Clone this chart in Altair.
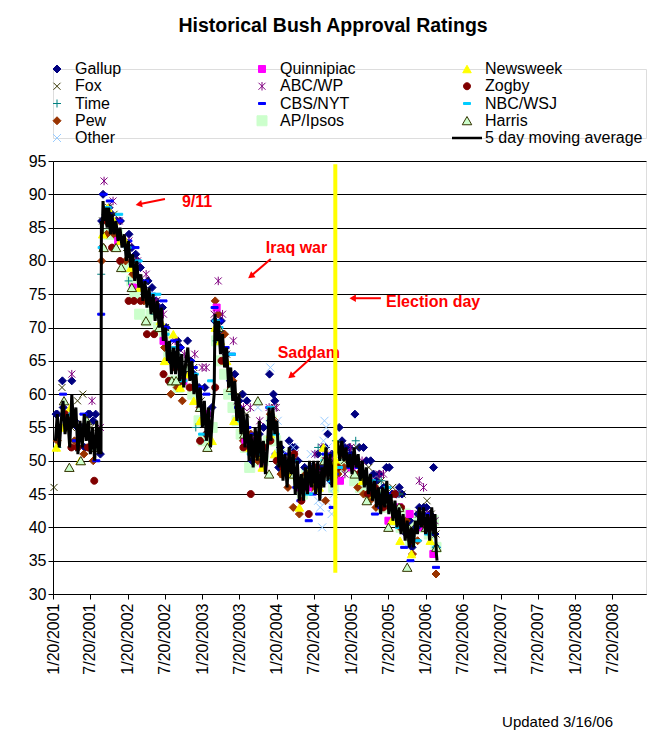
import altair as alt
import pandas as pd

TITLE = "Historical Bush Approval Ratings"
UPDATED = "Updated 3/16/06"
MA_LABEL = "5 day moving average"

pollsters = ["Gallup", "Fox", "Time", "Pew", "Other", "Quinnipiac", "ABC/WP",
             "CBS/NYT", "AP/Ipsos", "Newsweek", "Zogby", "NBC/WSJ", "Harris"]

tick_labels = ["1/20/2001", "7/20/2001", "1/20/2002", "7/20/2002", "1/20/2003",
               "7/20/2003", "1/20/2004", "7/20/2004", "1/20/2005", "7/20/2005",
               "1/20/2006", "7/20/2006", "1/20/2007", "7/20/2007", "1/20/2008",
               "7/20/2008"]
y_ticks = [30, 35, 40, 45, 50, 55, 60, 65, 70, 75, 80, 85, 90, 95]

gallup = [("2001-02-04", 57), ("2001-02-11", 57), ("2001-03-07", 62), ("2001-03-11", 58),
          ("2001-04-22", 62), ("2001-05-06", 56), ("2001-05-20", 55), ("2001-06-10", 55),
          ("2001-06-24", 52), ("2001-07-11", 57), ("2001-07-20", 57), ("2001-08-05", 56),
          ("2001-08-17", 57), ("2001-09-09", 51), ("2001-09-15", 86), ("2001-09-22", 90),
          ("2001-10-07", 87), ("2001-10-21", 88), ("2001-11-04", 87), ("2001-11-28", 86),
          ("2001-12-16", 86), ("2002-01-06", 83), ("2002-01-27", 84), ("2002-02-10", 82),
          ("2002-03-01", 81), ("2002-03-10", 80), ("2002-03-24", 79), ("2002-04-07", 76),
          ("2002-04-30", 77), ("2002-05-20", 76), ("2002-06-09", 74), ("2002-06-23", 73),
          ("2002-07-10", 73), ("2002-07-28", 70), ("2002-08-20", 65), ("2002-09-05", 66),
          ("2002-09-22", 68), ("2002-10-06", 67), ("2002-10-23", 63), ("2002-11-10", 68),
          ("2002-11-25", 65), ("2002-12-10", 63), ("2003-01-05", 61), ("2003-01-16", 58),
          ("2003-02-02", 61), ("2003-02-22", 57), ("2003-03-09", 58), ("2003-03-23", 71),
          ("2003-04-07", 70), ("2003-04-24", 71), ("2003-05-05", 69), ("2003-05-20", 66),
          ("2003-06-08", 62), ("2003-06-29", 63), ("2003-07-20", 59), ("2003-08-06", 60),
          ("2003-08-27", 59), ("2003-09-10", 52), ("2003-09-21", 50), ("2003-10-08", 53),
          ("2003-10-27", 54), ("2003-11-12", 51), ("2003-11-17", 55), ("2003-12-16", 63),
          ("2003-12-21", 56), ("2004-01-04", 60), ("2004-01-11", 59), ("2004-01-30", 49),
          ("2004-02-08", 52), ("2004-02-18", 51), ("2004-03-07", 49), ("2004-03-21", 53),
          ("2004-04-06", 52), ("2004-04-18", 52), ("2004-05-03", 50), ("2004-05-08", 46),
          ("2004-05-23", 47), ("2004-06-05", 49), ("2004-06-22", 48), ("2004-07-08", 49),
          ("2004-07-21", 48), ("2004-08-08", 51), ("2004-08-25", 49), ("2004-09-05", 52),
          ("2004-09-15", 52), ("2004-09-26", 54), ("2004-10-10", 47), ("2004-10-16", 51),
          ("2004-10-24", 49), ("2004-10-31", 48), ("2004-11-21", 55), ("2004-12-05", 53),
          ("2004-12-19", 52), ("2005-01-09", 52), ("2005-01-16", 51), ("2005-02-06", 57),
          ("2005-02-27", 52), ("2005-03-20", 52), ("2005-04-03", 50), ("2005-04-24", 50),
          ("2005-05-08", 48), ("2005-05-22", 47), ("2005-06-06", 48), ("2005-06-26", 46),
          ("2005-07-10", 49), ("2005-07-24", 49), ("2005-08-07", 45), ("2005-08-28", 45),
          ("2005-09-11", 46), ("2005-09-25", 45), ("2005-10-16", 39), ("2005-11-01", 41),
          ("2005-11-13", 37), ("2005-12-11", 42), ("2005-12-18", 43), ("2006-01-08", 43),
          ("2006-01-22", 43), ("2006-02-08", 42), ("2006-02-26", 49), ("2006-03-05", 39),
          ("2006-03-12", 37)]

fox = [("2001-01-25", 46), ("2001-03-05", 61), ("2001-04-20", 55), ("2001-05-20", 59),
       ("2001-06-15", 60), ("2001-07-25", 55), ("2001-09-20", 86), ("2001-10-20", 88),
       ("2001-11-15", 87), ("2002-01-15", 82), ("2002-02-15", 80), ("2002-04-15", 77),
       ("2002-06-10", 74), ("2002-07-25", 70), ("2002-09-10", 66), ("2002-10-25", 64),
       ("2002-12-10", 64), ("2003-01-15", 59), ("2003-02-25", 57), ("2003-04-10", 68),
       ("2003-05-20", 66), ("2003-07-15", 60), ("2003-08-25", 57), ("2003-10-15", 53),
       ("2003-11-20", 52), ("2004-01-10", 58), ("2004-02-20", 48), ("2004-04-10", 50),
       ("2004-05-25", 46), ("2004-06-25", 48), ("2004-08-05", 47), ("2004-09-15", 50),
       ("2004-10-20", 48), ("2004-12-15", 50), ("2005-02-15", 52), ("2005-04-15", 49),
       ("2005-06-15", 47), ("2005-08-10", 46), ("2005-09-25", 45), ("2005-11-10", 40),
       ("2005-12-15", 42), ("2006-01-25", 44), ("2006-02-15", 42), ("2006-03-10", 39)]

time_ = [("2001-02-10", 52), ("2001-05-10", 52), ("2001-09-13", 78), ("2002-01-25", 77),
         ("2002-06-01", 72), ("2002-09-20", 66), ("2002-12-20", 55), ("2003-01-15", 53),
         ("2003-04-01", 68), ("2003-06-15", 60), ("2003-09-15", 52), ("2003-12-25", 54),
         ("2004-02-15", 51), ("2004-04-15", 50), ("2004-06-25", 47), ("2004-08-10", 52),
         ("2004-09-10", 51), ("2004-11-05", 53), ("2005-02-10", 53), ("2005-05-10", 46),
         ("2005-06-15", 47), ("2005-09-10", 45), ("2005-11-01", 39), ("2006-01-30", 40)]

pew = [("2001-02-10", 53), ("2001-04-10", 56), ("2001-05-05", 53), ("2001-06-20", 51),
       ("2001-07-15", 52), ("2001-08-05", 50), ("2001-09-15", 80), ("2001-10-10", 84),
       ("2001-11-15", 84), ("2002-01-10", 80), ("2002-02-15", 78), ("2002-04-10", 74),
       ("2002-05-20", 74), ("2002-07-20", 67), ("2002-08-20", 60), ("2002-09-20", 61),
       ("2002-10-15", 59), ("2002-12-10", 61), ("2003-01-10", 58), ("2003-02-10", 54),
       ("2003-03-25", 74), ("2003-04-10", 72), ("2003-05-10", 69), ("2003-06-20", 62),
       ("2003-07-20", 58), ("2003-08-10", 53), ("2003-09-15", 54), ("2003-10-20", 50),
       ("2003-12-20", 57), ("2004-01-10", 56), ("2004-02-10", 48), ("2004-03-15", 46),
       ("2004-04-10", 43), ("2004-05-10", 42), ("2004-06-10", 48), ("2004-07-10", 46),
       ("2004-08-10", 46), ("2004-09-15", 44), ("2004-10-20", 48), ("2004-11-15", 48),
       ("2004-12-15", 49), ("2005-01-10", 50), ("2005-02-20", 46), ("2005-03-20", 45),
       ("2005-04-20", 44), ("2005-05-20", 43), ("2005-06-20", 44), ("2005-07-20", 44),
       ("2005-09-15", 40), ("2005-10-15", 41), ("2005-11-15", 36), ("2005-12-10", 38),
       ("2006-01-10", 40), ("2006-02-10", 40), ("2006-03-10", 33)]

other = [("2003-10-20", 58), ("2003-12-20", 64), ("2004-01-03", 58), ("2004-01-25", 56),
         ("2004-02-20", 51), ("2004-03-15", 50), ("2004-04-10", 52), ("2004-05-20", 47),
         ("2004-06-15", 48), ("2004-07-05", 51), ("2004-07-25", 49), ("2004-08-10", 44),
         ("2004-08-20", 43), ("2004-08-30", 40), ("2004-09-05", 53), ("2004-09-10", 56),
         ("2004-09-18", 55), ("2004-09-25", 52), ("2004-10-05", 47), ("2004-10-15", 42),
         ("2004-10-20", 43), ("2004-10-25", 45), ("2004-10-28", 50), ("2004-10-30", 46)]

quinnipiac = [("2001-12-05", 83), ("2002-02-15", 76), ("2002-07-15", 68), ("2002-10-20", 62),
              ("2003-02-10", 57), ("2003-04-01", 73), ("2003-07-20", 57), ("2003-08-20", 53),
              ("2003-10-10", 53), ("2003-11-15", 49), ("2004-02-15", 50), ("2004-03-20", 48),
              ("2004-05-15", 46), ("2004-06-20", 46), ("2004-08-15", 48), ("2004-09-20", 50),
              ("2004-10-20", 48), ("2004-11-25", 47), ("2005-01-20", 49), ("2005-03-20", 48),
              ("2005-05-10", 45), ("2005-07-20", 41), ("2005-09-10", 43), ("2005-11-01", 42),
              ("2005-12-15", 40), ("2006-02-25", 36)]

abc_wp = [("2001-04-22", 63), ("2001-06-03", 55), ("2001-07-30", 59), ("2001-09-09", 55),
          ("2001-09-27", 92), ("2001-11-10", 89), ("2001-12-10", 86), ("2002-01-27", 83),
          ("2002-03-10", 80), ("2002-04-21", 78), ("2002-06-10", 74), ("2002-07-15", 72),
          ("2002-09-10", 68), ("2002-10-25", 66), ("2002-12-15", 66), ("2003-01-20", 64),
          ("2003-02-09", 64), ("2003-03-20", 72), ("2003-04-09", 77), ("2003-04-30", 72),
          ("2003-06-22", 68), ("2003-07-10", 59), ("2003-08-11", 58), ("2003-09-13", 58),
          ("2003-10-29", 56), ("2003-12-14", 58), ("2004-01-18", 58), ("2004-02-11", 50),
          ("2004-03-07", 50), ("2004-04-18", 51), ("2004-05-23", 47), ("2004-06-20", 47),
          ("2004-07-25", 51), ("2004-08-29", 52), ("2004-09-26", 51), ("2004-10-20", 50),
          ("2004-12-19", 48), ("2005-01-16", 52), ("2005-03-13", 50), ("2005-04-24", 47),
          ("2005-06-05", 48), ("2005-06-26", 48), ("2005-08-28", 45), ("2005-09-11", 42),
          ("2005-10-30", 39), ("2005-12-18", 47), ("2006-01-08", 46), ("2006-01-26", 42),
          ("2006-03-05", 41)]

cbs_nyt = [("2001-03-10", 60), ("2001-05-12", 53), ("2001-06-18", 57), ("2001-08-20", 50),
           ("2001-09-13", 72), ("2001-09-25", 90), ("2001-10-25", 89), ("2001-12-10", 86),
           ("2002-01-24", 83), ("2002-02-28", 82), ("2002-04-15", 77), ("2002-05-20", 75),
           ("2002-07-15", 74), ("2002-07-25", 70), ("2002-09-05", 68), ("2002-10-05", 67),
           ("2002-11-25", 65), ("2002-12-10", 64), ("2003-01-10", 61), ("2003-02-10", 60),
           ("2003-03-22", 73), ("2003-04-15", 71), ("2003-05-15", 67), ("2003-06-15", 66),
           ("2003-07-15", 58), ("2003-08-30", 55), ("2003-09-30", 54), ("2003-11-15", 51),
           ("2003-12-15", 58), ("2004-01-15", 51), ("2004-02-12", 50), ("2004-03-15", 51),
           ("2004-04-25", 46), ("2004-05-15", 44), ("2004-06-25", 41), ("2004-07-15", 45),
           ("2004-08-15", 42), ("2004-09-15", 51), ("2004-10-20", 43), ("2004-10-30", 48),
           ("2005-01-15", 49), ("2005-02-25", 49), ("2005-04-15", 47), ("2005-05-15", 42),
           ("2005-06-15", 43), ("2005-07-15", 45), ("2005-09-10", 41), ("2005-10-05", 37),
           ("2005-11-05", 35), ("2005-12-05", 40), ("2006-01-25", 42), ("2006-03-10", 34)]

ap_ipsos = [("2001-10-20", 84), ("2001-12-01", 84), ("2002-01-15", 79), ("2002-02-10", 77),
            ("2002-02-25", 75), ("2002-03-20", 72), ("2002-04-25", 71), ("2002-05-15", 72),
            ("2002-06-20", 70), ("2002-07-20", 69), ("2002-08-10", 66), ("2002-08-30", 62),
            ("2002-09-25", 61), ("2002-10-15", 62), ("2002-11-05", 63), ("2002-12-05", 60),
            ("2003-01-05", 56), ("2003-01-25", 53), ("2003-02-15", 53), ("2003-03-10", 55),
            ("2003-04-01", 68), ("2003-04-20", 65), ("2003-05-10", 63), ("2003-05-30", 60),
            ("2003-06-20", 58), ("2003-07-10", 56), ("2003-07-30", 54), ("2003-08-20", 52),
            ("2003-09-10", 49), ("2003-10-05", 50), ("2003-10-25", 52), ("2003-11-15", 50),
            ("2003-12-10", 53), ("2003-12-25", 56), ("2004-01-15", 53), ("2004-02-05", 51),
            ("2004-02-25", 49), ("2004-03-20", 49), ("2004-04-10", 48), ("2004-05-05", 47),
            ("2004-05-25", 45), ("2004-06-15", 48), ("2004-07-10", 47), ("2004-08-05", 46),
            ("2004-08-25", 48), ("2004-09-15", 50), ("2004-10-05", 48), ("2004-10-25", 46),
            ("2004-11-20", 49), ("2004-12-15", 50), ("2005-01-10", 49), ("2005-02-05", 47),
            ("2005-03-05", 46), ("2005-03-30", 47), ("2005-04-20", 45), ("2005-05-10", 46),
            ("2005-06-05", 45), ("2005-06-25", 43), ("2005-07-15", 44), ("2005-08-05", 43),
            ("2005-08-30", 41), ("2005-09-20", 40), ("2005-10-10", 42), ("2005-11-05", 38),
            ("2005-11-25", 40), ("2005-12-15", 41), ("2006-01-10", 40), ("2006-02-05", 39),
            ("2006-02-25", 41), ("2006-03-10", 37)]

newsweek = [("2001-02-05", 52), ("2001-03-10", 55), ("2001-04-15", 58), ("2001-06-01", 50),
            ("2001-09-20", 84), ("2001-10-15", 88), ("2001-11-15", 86), ("2001-12-15", 83),
            ("2002-01-10", 83), ("2002-02-05", 79), ("2002-03-20", 76), ("2002-05-15", 74),
            ("2002-06-30", 71), ("2002-07-20", 65), ("2002-09-01", 69), ("2002-10-05", 61),
            ("2002-11-15", 63), ("2002-12-10", 59), ("2003-01-10", 56), ("2003-02-10", 56),
            ("2003-03-10", 53), ("2003-03-25", 70), ("2003-04-20", 68), ("2003-05-20", 65),
            ("2003-06-25", 56), ("2003-08-10", 55), ("2003-09-10", 52), ("2003-10-15", 51),
            ("2003-11-10", 49), ("2003-12-20", 54), ("2004-01-10", 51), ("2004-02-10", 50),
            ("2004-03-25", 48), ("2004-05-10", 43), ("2004-06-20", 48), ("2004-07-10", 47),
            ("2004-08-15", 46), ("2004-09-05", 52), ("2004-10-15", 48), ("2004-11-05", 50),
            ("2005-01-25", 50), ("2005-03-15", 47), ("2005-05-05", 45), ("2005-06-20", 45),
            ("2005-08-05", 41), ("2005-09-15", 38), ("2005-11-10", 36), ("2006-01-10", 41),
            ("2006-02-10", 38)]

zogby = [("2001-03-20", 57), ("2001-04-20", 52), ("2001-05-20", 52), ("2001-07-10", 52),
         ("2001-08-10", 47), ("2001-09-20", 82), ("2001-10-10", 86), ("2001-11-05", 82),
         ("2001-12-15", 80), ("2002-01-25", 74), ("2002-02-20", 74), ("2002-03-25", 74),
         ("2002-04-25", 69), ("2002-05-30", 69), ("2002-07-15", 63), ("2002-08-10", 62),
         ("2002-09-10", 64), ("2002-10-15", 62), ("2002-11-20", 61), ("2003-01-10", 53),
         ("2003-02-10", 54), ("2003-03-25", 61), ("2003-04-25", 65), ("2003-06-10", 61),
         ("2003-08-10", 52), ("2003-09-15", 45), ("2003-10-15", 51), ("2003-11-20", 52),
         ("2003-12-20", 53), ("2004-01-20", 50), ("2004-02-20", 49), ("2004-03-25", 49),
         ("2004-04-15", 51), ("2004-05-20", 44), ("2004-06-25", 42), ("2004-07-30", 49),
         ("2004-09-05", 48), ("2004-10-05", 49), ("2004-11-15", 49), ("2004-12-10", 51),
         ("2005-02-25", 48), ("2005-04-10", 45), ("2005-05-15", 46), ("2005-06-25", 43),
         ("2005-08-20", 45), ("2005-09-20", 43), ("2005-11-10", 38), ("2006-01-05", 41),
         ("2006-02-15", 41)]

nbc_wsj = [("2001-04-25", 57), ("2001-06-25", 55), ("2001-09-15", 82), ("2001-10-15", 88),
           ("2001-12-10", 87), ("2002-01-20", 82), ("2002-03-15", 80), ("2002-05-20", 75),
           ("2002-06-15", 75), ("2002-07-25", 69), ("2002-09-10", 67), ("2002-10-20", 62),
           ("2002-12-15", 63), ("2003-01-20", 54), ("2003-03-05", 62), ("2003-03-30", 71),
           ("2003-04-15", 70), ("2003-06-15", 66), ("2003-07-30", 56), ("2003-09-15", 51),
           ("2003-11-10", 51), ("2003-12-20", 58), ("2004-01-15", 54), ("2004-03-10", 50),
           ("2004-05-05", 47), ("2004-06-25", 45), ("2004-07-20", 47), ("2004-09-10", 50),
           ("2004-10-15", 47), ("2004-11-20", 49), ("2005-01-15", 50), ("2005-03-15", 48),
           ("2005-04-30", 47), ("2005-06-15", 45), ("2005-07-15", 46), ("2005-09-10", 40),
           ("2005-10-25", 39), ("2005-12-10", 38), ("2006-01-30", 39), ("2006-03-12", 37)]

harris = [("2001-03-15", 59), ("2001-04-10", 49), ("2001-06-05", 50), ("2001-07-05", 56),
          ("2001-08-15", 52), ("2001-09-25", 82), ("2001-10-25", 86), ("2001-11-25", 82),
          ("2001-12-20", 79), ("2002-02-10", 76), ("2002-04-20", 71), ("2002-06-25", 70),
          ("2002-08-25", 62), ("2002-09-15", 62), ("2002-11-15", 64), ("2003-01-10", 58),
          ("2003-02-15", 52), ("2003-04-10", 70), ("2003-06-10", 61), ("2003-08-15", 54),
          ("2003-10-20", 59), ("2003-12-14", 48), ("2004-02-10", 50), ("2004-04-15", 48),
          ("2004-06-10", 47), ("2004-08-10", 48), ("2004-09-10", 50), ("2004-10-20", 48),
          ("2005-02-05", 48), ("2005-04-05", 44), ("2005-07-20", 40), ("2005-09-10", 43),
          ("2005-10-20", 34), ("2006-01-20", 40), ("2006-03-12", 37)]

moving_avg = [("2001-02-01", 53), ("2001-02-10", 57), ("2001-02-20", 52), ("2001-03-01", 56),
              ("2001-03-10", 59), ("2001-03-20", 54), ("2001-04-01", 57), ("2001-04-12", 52),
              ("2001-04-22", 60), ("2001-05-01", 55), ("2001-05-12", 58), ("2001-05-22", 51),
              ("2001-06-01", 56), ("2001-06-12", 52), ("2001-06-22", 57), ("2001-07-02", 53),
              ("2001-07-12", 56), ("2001-07-22", 51), ("2001-08-01", 55), ("2001-08-12", 50),
              ("2001-08-22", 56), ("2001-09-01", 51), ("2001-09-08", 55), ("2001-09-12", 51),
              ("2001-09-14", 86), ("2001-09-18", 84), ("2001-09-22", 89), ("2001-09-28", 86),
              ("2001-10-05", 88), ("2001-10-12", 85), ("2001-10-20", 88), ("2001-10-28", 84),
              ("2001-11-05", 87), ("2001-11-14", 84), ("2001-11-24", 86), ("2001-12-04", 83),
              ("2001-12-14", 85), ("2001-12-24", 82), ("2002-01-04", 84), ("2002-01-14", 80),
              ("2002-01-24", 83), ("2002-02-04", 79), ("2002-02-14", 81), ("2002-02-24", 77),
              ("2002-03-06", 80), ("2002-03-16", 76), ("2002-03-26", 78), ("2002-04-05", 74),
              ("2002-04-15", 77), ("2002-04-25", 73), ("2002-05-05", 76), ("2002-05-15", 72),
              ("2002-05-25", 75), ("2002-06-04", 71), ("2002-06-14", 74), ("2002-06-24", 70),
              ("2002-07-04", 73), ("2002-07-14", 68), ("2002-07-24", 70), ("2002-08-03", 65),
              ("2002-08-13", 68), ("2002-08-23", 63), ("2002-09-02", 67), ("2002-09-12", 63),
              ("2002-09-22", 68), ("2002-10-02", 62), ("2002-10-12", 66), ("2002-10-22", 61),
              ("2002-11-01", 65), ("2002-11-11", 67), ("2002-11-21", 62), ("2002-12-01", 65),
              ("2002-12-11", 60), ("2002-12-21", 63), ("2003-01-01", 58), ("2003-01-11", 61),
              ("2003-01-21", 55), ("2003-01-31", 59), ("2003-02-10", 53), ("2003-02-20", 58),
              ("2003-03-02", 52), ("2003-03-12", 57), ("2003-03-20", 60), ("2003-03-24", 72),
              ("2003-04-01", 68), ("2003-04-10", 71), ("2003-04-20", 66), ("2003-04-30", 69),
              ("2003-05-10", 64), ("2003-05-20", 67), ("2003-05-30", 61), ("2003-06-09", 64),
              ("2003-06-19", 59), ("2003-06-29", 62), ("2003-07-09", 56), ("2003-07-19", 60),
              ("2003-07-29", 54), ("2003-08-08", 58), ("2003-08-18", 52), ("2003-08-28", 57),
              ("2003-09-07", 50), ("2003-09-17", 54), ("2003-09-27", 49), ("2003-10-07", 55),
              ("2003-10-17", 50), ("2003-10-27", 56), ("2003-11-06", 49), ("2003-11-16", 53),
              ("2003-11-26", 48), ("2003-12-06", 52), ("2003-12-14", 58), ("2003-12-22", 53),
              ("2004-01-01", 58), ("2004-01-11", 54), ("2004-01-21", 56), ("2004-01-31", 49),
              ("2004-02-10", 53), ("2004-02-20", 47), ("2004-03-01", 51), ("2004-03-11", 46),
              ("2004-03-21", 52), ("2004-03-31", 48), ("2004-04-10", 51), ("2004-04-20", 45),
              ("2004-04-30", 50), ("2004-05-10", 44), ("2004-05-20", 48), ("2004-05-30", 44),
              ("2004-06-09", 49), ("2004-06-19", 45), ("2004-06-29", 50), ("2004-07-09", 46),
              ("2004-07-19", 50), ("2004-07-29", 45), ("2004-08-08", 50), ("2004-08-18", 44),
              ("2004-08-28", 49), ("2004-09-07", 46), ("2004-09-17", 52), ("2004-09-27", 47),
              ("2004-10-07", 51), ("2004-10-17", 46), ("2004-10-27", 50), ("2004-11-04", 51),
              ("2004-11-14", 53), ("2004-11-24", 50), ("2004-12-04", 53), ("2004-12-14", 50),
              ("2004-12-24", 52), ("2005-01-03", 49), ("2005-01-13", 51), ("2005-01-23", 48),
              ("2005-02-02", 52), ("2005-02-12", 49), ("2005-02-22", 51), ("2005-03-04", 47),
              ("2005-03-14", 50), ("2005-03-24", 46), ("2005-04-03", 49), ("2005-04-13", 45),
              ("2005-04-23", 48), ("2005-05-03", 44), ("2005-05-13", 47), ("2005-05-23", 43),
              ("2005-06-02", 46), ("2005-06-12", 42), ("2005-06-22", 46), ("2005-07-02", 43),
              ("2005-07-12", 47), ("2005-07-22", 42), ("2005-08-01", 45), ("2005-08-11", 41),
              ("2005-08-21", 44), ("2005-08-31", 40), ("2005-09-10", 43), ("2005-09-20", 39),
              ("2005-09-30", 42), ("2005-10-10", 38), ("2005-10-20", 41), ("2005-10-30", 37),
              ("2005-11-09", 40), ("2005-11-19", 37), ("2005-11-29", 41), ("2005-12-09", 39),
              ("2005-12-19", 43), ("2005-12-29", 40), ("2006-01-08", 43), ("2006-01-18", 39),
              ("2006-01-28", 42), ("2006-02-07", 38), ("2006-02-17", 43), ("2006-02-27", 39),
              ("2006-03-05", 42), ("2006-03-12", 36), ("2006-03-15", 35)]

election_date = "2004-11-02"
election_span = (33.2, 94.5)

note_labels = ["9/11", "Iraq war", "Election day", "Saddam"]
note_dates = ["2002-10-13", "2003-11-28", "2005-07-08", "2004-01-25"]
note_values = [88.8, 81.9, 73.8, 66.2]
arrow_tail_dates = ["2002-07-22", "2003-12-22", "2005-06-13", "2004-07-05"]
arrow_tail_values = [89.3, 80.3, 74.4, 65.4]
arrow_head_dates = ["2002-03-16", "2003-09-15", "2005-01-26", "2004-03-29"]
arrow_head_values = [88.5, 77.7, 74.4, 62.7]
arrow_angles = [259, 234, 270, 230]

# ---------------------------------------------------------------- styles
FONT = "Liberation Sans"
series = {"Gallup": gallup, "Fox": fox, "Time": time_, "Pew": pew, "Other": other,
          "Quinnipiac": quinnipiac, "ABC/WP": abc_wp, "CBS/NYT": cbs_nyt,
          "AP/Ipsos": ap_ipsos, "Newsweek": newsweek, "Zogby": zogby,
          "NBC/WSJ": nbc_wsj, "Harris": harris}
diamond = "M0,-0.8L0.8,0L0,0.8L-0.8,0Z"
shape_of = {
    "Gallup": diamond,
    "Fox": "M-0.7,-0.7L0.7,0.7M-0.7,0.7L0.7,-0.7",
    "Time": "M-0.8,0L0.8,0M0,-0.8L0,0.8",
    "Pew": diamond,
    "Other": "M-0.8,-0.8L0.8,0.8M-0.8,0.8L0.8,-0.8",
    "Quinnipiac": "M-0.7,-0.7L0.7,-0.7L0.7,0.7L-0.7,0.7Z",
    "ABC/WP": "M-0.7,-0.7L0.7,0.7M-0.7,0.7L0.7,-0.7M0,-0.85L0,0.85",
    "CBS/NYT": "M-0.7,-0.2L0.7,-0.2L0.7,0.2L-0.7,0.2Z",
    "AP/Ipsos": "M-1,-1L1,-1L1,1L-1,1Z",
    "Newsweek": "M0,-0.75L0.85,0.75L-0.85,0.75Z",
    "Zogby": "M-0.7,0A0.7,0.7 0 1,0 0.7,0A0.7,0.7 0 1,0 -0.7,0Z",
    "NBC/WSJ": "M-0.7,-0.2L0.7,-0.2L0.7,0.2L-0.7,0.2Z",
    "Harris": "M0,-0.85L0.95,0.8L-0.95,0.8Z",
}
fill_of = {"Gallup": "#000080", "Fox": "#333300", "Time": "#008080", "Pew": "#993300",
           "Other": "#99ccff", "Quinnipiac": "#ff00ff", "ABC/WP": "#800080",
           "CBS/NYT": "#0000ff", "AP/Ipsos": "#ccffcc", "Newsweek": "#ffff00",
           "Zogby": "#800000", "NBC/WSJ": "#00ccff", "Harris": "#ccffcc"}
stroke_of = dict(fill_of)
stroke_of["Harris"] = "#333300"

shape_scale = alt.Scale(domain=pollsters, range=[shape_of[p] for p in pollsters])
fill_scale = alt.Scale(domain=pollsters, range=[fill_of[p] for p in pollsters])
stroke_scale = alt.Scale(domain=pollsters, range=[stroke_of[p] for p in pollsters])


def to_dt(s):
    m, d, y = (int(p) for p in s.split("/"))
    return alt.DateTime(year=y, month=m, date=d, utc=True)


# ---------------------------------------------------------------- data tables
draw_order = ["AP/Ipsos"] + [p for p in pollsters if p != "AP/Ipsos"]
rows = []
for p in draw_order:
    for d, v in series[p]:
        rows.append({"date": d, "value": v, "pollster": p})
polls = pd.DataFrame(rows)
ma_df = pd.DataFrame({"date": [d for d, _ in moving_avg], "value": [v for _, v in moving_avg]})
elec_df = pd.DataFrame({"date": [election_date], "lo": [election_span[0]], "hi": [election_span[1]]})
notes_df = pd.DataFrame({"date": note_dates, "value": note_values, "label": note_labels})
arrows_df = pd.DataFrame({"d1": arrow_tail_dates, "v1": arrow_tail_values,
                          "d2": arrow_head_dates, "v2": arrow_head_values,
                          "ang": arrow_angles})

columns = [pollsters[0:5], pollsters[5:9], pollsters[9:13] + [MA_LABEL]]
leg_rows = []
for c, items in enumerate(columns):
    for r, name in enumerate(items):
        leg_rows.append({"label": name, "col": c, "row": r})
legend_df = pd.DataFrame(leg_rows)

# ---------------------------------------------------------------- main chart
W, H = 593, 433
xscale = alt.Scale(type="utc", domain=[to_dt("1/20/2001"), to_dt("1/1/2009")])
yscale = alt.Scale(domain=[30, 95], nice=False, zero=False)
xaxis = alt.Axis(values=[to_dt(s) for s in tick_labels],
                 labelExpr="utcFormat(datum.value, '%-m/%-d/%Y')",
                 labelAngle=270, labelAlign="right", labelBaseline="middle",
                 labelFontSize=16, labelFont=FONT, labelColor="black", labelPadding=4,
                 labelOverlap=False, labelFlush=False, tickColor="black", tickSize=5,
                 domainColor="black", grid=False, title=None)
yaxis = alt.Axis(values=y_ticks, labelFontSize=16, labelFont=FONT, labelColor="black",
                 labelPadding=2, tickColor="black", tickSize=5, domainColor="black",
                 grid=True, gridColor="black", gridWidth=1, title=None)


def X(field):
    return alt.X(field, type="temporal", scale=xscale, axis=xaxis)


def Y(field):
    return alt.Y(field, type="quantitative", scale=yscale, axis=yaxis)


points = alt.Chart(polls).mark_point(filled=True, opacity=1, size=100, strokeWidth=1).encode(
    x=X("date"), y=Y("value"),
    shape=alt.Shape("pollster:N", scale=shape_scale, legend=None),
    fill=alt.Fill("pollster:N", scale=fill_scale, legend=None),
    stroke=alt.Stroke("pollster:N", scale=stroke_scale, legend=None),
)
ma_line = alt.Chart(ma_df).mark_line(color="black", strokeWidth=3).encode(
    x=X("date"), y=Y("value"))
notes = alt.Chart(notes_df).mark_text(align="left", baseline="middle", color="#ff0000",
                                      fontSize=16, fontWeight="bold", font=FONT).encode(
    x=X("date"), y=Y("value"), text="label:N")
shafts = alt.Chart(arrows_df).mark_rule(color="#ff0000", strokeWidth=2).encode(
    x=X("d1"), x2="d2", y=Y("v1"), y2="v2")
heads = alt.Chart(arrows_df).mark_point(shape="triangle-up", filled=True, color="#ff0000",
                                        opacity=1, size=55).encode(
    x=X("d2"), y=Y("v2"), angle=alt.Angle("ang:Q", scale=None))
election = alt.Chart(elec_df).mark_rule(color="#ffff00", strokeWidth=4).encode(
    x=X("date"), y=Y("lo"), y2="hi")

main = alt.layer(points, ma_line, notes, shafts, heads, election).properties(
    width=W, height=H,
    title=alt.TitleParams(UPDATED, orient="bottom", anchor="end", fontSize=15,
                          fontWeight="normal", font=FONT, color="black", offset=41, dx=-33),
)

# ---------------------------------------------------------------- legend panel
lx = alt.X("col:Q", scale=alt.Scale(domain=[0, 3], range=[0, 615]), axis=None)
ly = alt.Y("row:Q", scale=alt.Scale(domain=[0, 4], range=[0, 69]), axis=None)
leg_pts = alt.Chart(legend_df).transform_filter(
    alt.datum.label != MA_LABEL
).mark_point(filled=True, opacity=1, size=100, strokeWidth=1, xOffset=4).encode(
    x=lx, y=ly,
    shape=alt.Shape("label:N", scale=shape_scale, legend=None),
    fill=alt.Fill("label:N", scale=fill_scale, legend=None),
    stroke=alt.Stroke("label:N", scale=stroke_scale, legend=None),
)
leg_line = alt.Chart(legend_df).transform_filter(
    alt.datum.label == MA_LABEL
).mark_rule(color="black", strokeWidth=2.5, xOffset=-11, x2Offset=19).encode(
    x=lx, x2="col:Q", y=ly)
leg_text = alt.Chart(legend_df).mark_text(align="left", baseline="middle", dx=22,
                                          fontSize=16, font=FONT, color="black").encode(
    x=lx, y=ly, text="label:N")
legend_panel = alt.layer(leg_pts, leg_line, leg_text).properties(width=W, height=69)

chart = alt.vconcat(legend_panel, main, spacing=23, bounds="flush").properties(
    title=alt.TitleParams(TITLE, fontSize=19.5, fontWeight="bold", font=FONT, color="black",
                          anchor="middle", dx=-4, offset=24),
    padding={"left": 19, "top": 8, "right": 5, "bottom": 0},
).configure_view(stroke=None).configure(font=FONT)

chart.save("out.html", embed_options={"renderer": "svg", "actions": False})
